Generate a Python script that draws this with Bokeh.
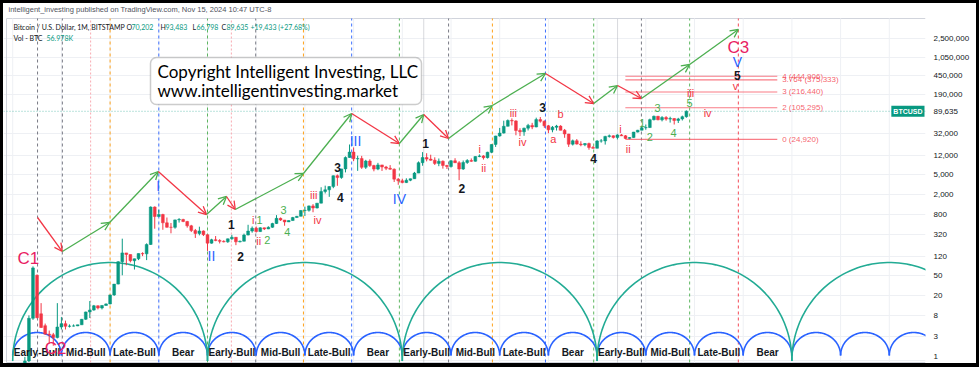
import numpy as np
from bokeh.plotting import figure
from bokeh.models import (Range1d, FixedTicker, NumeralTickFormatter, Arrow,
                          OpenHead, Label, BoxAnnotation, Span)
from bokeh.core.properties import value
from bokeh.embed import file_html
from bokeh.resources import INLINE

# ------------------------------------------------------------------ data
first_year, first_month = 2011, 4          # first monthly candle: Apr 2011
opens = [0.8, 1.0, 7.0, 50, 8.6, 5.0, 3.4, 3.3, 2.9,
         4.7, 5.48, 4.86, 4.9, 4.95, 5.2, 6.7, 9.35, 10.2, 12.4, 11.2, 12.6,
         13.5, 20.4, 33.4, 93, 139, 129, 97, 106, 135, 133, 204, 1130,
         732, 803, 549, 448, 446, 628, 640, 584, 478, 387, 338, 378,
         320, 217, 254, 244, 236, 230, 264, 284, 230, 237, 314, 377,
         430, 368, 437, 416, 448, 531, 673, 624, 573, 609, 699, 740,
         966, 970, 1190, 1080, 1350, 2300, 2480, 2870, 4730, 4340, 6450, 10860,
         13880, 10230, 10330, 6930, 9240, 7500, 6390, 7730, 7030, 6630, 6370, 4040,
         3740, 3450, 3850, 4110, 5320, 8570, 10820, 10090, 9600, 8300, 9150, 7550,
         7190, 9350, 8540, 6420, 8640, 9450, 9140, 11350, 11650, 10780, 13800, 19700,
         28990, 33110, 45200, 58800, 57700, 37300, 35040, 41460, 47100, 43800, 61300, 57000,
         46200, 38480, 43180, 45540, 37630, 31790, 19930, 23300, 20050, 19420, 20490, 17170,
         16540, 23130, 23140, 28470, 29230, 27200, 30480, 29230, 25940, 26970, 34640, 37720,
         42280, 42580, 61160, 71330, 60620, 67490, 62700, 64620, 58970, 63330, 70202]
highs = [1.2, 8.0, 75, 52, 14, 5.5, 4.0, 3.6, 14,
         7.4, 6.3, 5.3, 5.3, 5.2, 6.8, 9.5, 15.4, 12.9, 12.6, 12.7, 13.8,
         20.4, 33.4, 95, 266, 139, 129, 107, 135, 143, 215, 1163, 1163,
         1000, 830, 700, 545, 635, 680, 660, 600, 500, 415, 460, 388,
         320, 265, 300, 260, 247, 267, 317, 285, 244, 335, 502, 465,
         463, 448, 440, 468, 550, 780, 700, 626, 612, 720, 752, 980,
         1150, 1210, 1290, 1350, 2790, 3000, 2920, 4770, 5000, 6470, 11400, 19670,
         17200, 11800, 11700, 9760, 9990, 7780, 8500, 7760, 7400, 7670, 6580, 4240,
         4110, 4200, 4140, 5620, 9070, 13880, 13200, 12330, 10950, 10370, 9500, 7750,
         9600, 10500, 9190, 9460, 10070, 10400, 11450, 12480, 12070, 14100, 19860, 29300,
         41950, 58350, 61800, 64900, 59600, 41300, 42450, 50500, 52900, 67000, 69000, 59100,
         47990, 45800, 48200, 47450, 40000, 31990, 24650, 25200, 22800, 21000, 21450, 18380,
         23950, 25250, 29200, 31000, 29800, 31400, 31800, 30200, 27500, 35000, 38400, 44700,
         48970, 64000, 73800, 72700, 71950, 71950, 70000, 65600, 66500, 73600, 93483]
lows = [0.6, 0.95, 6.5, 7.0, 4.5, 3.3, 2.2, 2.0, 2.8,
        4.2, 4.2, 4.6, 4.8, 4.9, 5.2, 6.5, 7.1, 9.9, 10.5, 10.5, 12.5,
        13.3, 19.5, 33, 50, 79, 90, 65, 100, 120, 100, 200, 420,
        740, 400, 440, 340, 420, 555, 565, 440, 360, 275, 310, 300,
        152, 212, 237, 214, 225, 220, 253, 198, 225, 235, 310, 350,
        353, 363, 395, 411, 437, 520, 600, 480, 570, 605, 692, 740,
        750, 915, 890, 1060, 1340, 2100, 1800, 2670, 2980, 4110, 5500, 10700,
        9200, 5900, 6450, 6430, 7070, 5780, 6080, 5880, 6100, 6210, 3550, 3120,
        3350, 3380, 3680, 4080, 5320, 7450, 9100, 9400, 7710, 7300, 6530, 6430,
        6850, 8450, 3850, 6150, 8120, 8900, 8980, 10990, 9880, 10370, 13220, 17600,
        28130, 32400, 44950, 47000, 30000, 28800, 29300, 37330, 39600, 43300, 53300, 42000,
        32900, 34300, 37200, 37700, 26700, 17600, 18780, 19600, 18150, 18200, 15500, 16260,
        16500, 21400, 19580, 26950, 25800, 24800, 28900, 25300, 24900, 26560, 34100, 37600,
        38550, 41880, 59000, 59600, 56550, 58400, 53500, 49000, 52500, 58900, 66798]
closes = [1.0, 7.0, 70, 7.2, 4.6, 3.4, 3.3, 2.9, 4.7,
          5.48, 4.86, 4.9, 4.95, 5.2, 6.7, 9.35, 10.2, 12.4, 11.2, 12.6, 13.5,
          20.4, 33.4, 93, 139, 129, 97, 106, 135, 133, 204, 1130, 732,
          803, 549, 448, 446, 628, 640, 584, 478, 387, 338, 378, 320,
          217, 254, 244, 236, 230, 264, 284, 230, 237, 314, 377, 430,
          368, 437, 416, 448, 531, 673, 624, 573, 609, 699, 740, 966,
          970, 1190, 1080, 1350, 2300, 2480, 2870, 4730, 4340, 6450, 10860, 13880,
          10230, 10330, 6930, 9240, 7500, 6390, 7730, 7030, 6630, 6370, 4040, 3740,
          3450, 3850, 4110, 5320, 8570, 10820, 10090, 9600, 8300, 9150, 7550, 7190,
          9350, 8540, 6420, 8640, 9450, 9140, 11350, 11650, 10780, 13800, 19700, 28990,
          33110, 45200, 58800, 57700, 37300, 35040, 41460, 47100, 43800, 61300, 57000, 46200,
          38480, 43180, 45540, 37630, 31790, 19930, 23300, 20050, 19420, 20490, 17170, 16540,
          23130, 23140, 28470, 29230, 27200, 30480, 29230, 25940, 26970, 34640, 37720, 42280,
          42580, 61160, 71330, 60620, 67490, 62700, 64620, 58970, 63330, 70202, 89635]

price_ticks = [1, 3, 8, 20, 50, 120, 320, 800, 2000, 5000, 12000, 32000,
               190000, 450000, 1050000, 2500000]
last_price = 89635
volume_text = "56.978K"

# cycle phases (one per calendar year) and arcs
phase_names = ["Early-Bull", "Mid-Bull", "Late-Bull", "Bear"]
phase_first_year, phase_last_year = 2011, 2026
arc_years = list(range(2011, 2031))           # blue (1-year) arc boundaries
cycle_starts = [2011, 2015, 2019, 2023, 2027]   # green (4-year) arcs
blue_arc_base, blue_arc_top = 1.28, 3.66
green_arc_base, green_arc_top = 1.0, 89.6

# vertical cycle markers (decimal years) and their colour kinds
vline_t = [2011.51, 2012.02, 2012.60, 2013.00, 2014.00, 2015.00, 2015.49, 2015.99,
           2016.97, 2017.96, 2018.94, 2019.44, 2019.95, 2020.85, 2021.94, 2022.93,
           2023.42, 2023.91, 2024.90, 2025.90]
vline_kind = ["gray", "gray", "pink", "orange", "blue", "green", "pink", "gray",
              "orange", "blue", "green", "light", "gray", "orange", "blue", "green",
              "light", "gray", "green", "red"]

# projection zig-zag (arrows)
zz_t = [2011.51, 2012.02, 2012.99, 2013.99, 2014.98, 2015.39, 2015.57, 2016.97,
        2017.96, 2018.94, 2019.44, 2019.95, 2020.85, 2021.94, 2022.93, 2023.42,
        2023.91, 2024.90, 2025.90]
zz_p = [700, 148, 557, 5730, 803, 1828, 1009, 5224, 81000, 20570, 77400, 25860,
        116700, 504000, 128000, 291000, 160800, 760000, 3760000]

# wave labels
cycle_text = ["C1", "C2", "C3"]
cycle_t = [2011.32, 2011.88, 2025.90]
cycle_p = [107.6, 1.76, 1650000]
blue_text = ["I", "II", "III", "IV", "V"]
blue_t = [2013.99, 2015.08, 2018.04, 2018.94, 2025.88]
blue_p = [3020, 118, 23600, 1668, 833000]
black_text = ["1", "2", "3", "4", "1", "2", "3", "4", "5"]
black_t = [2015.49, 2015.68, 2017.67, 2017.73, 2019.48, 2020.22, 2021.88, 2022.93, 2025.88]
black_p = [508, 118, 6875, 1746, 20570, 2636, 106600, 10370, 460000]
red_text = ["i", "ii", "iii", "iv", "i", "ii", "iii", "iv", "a", "b", "i", "ii", "iii", "iv", "v"]
red_t = [2015.94, 2016.05, 2017.18, 2017.26, 2020.59, 2020.67, 2021.28, 2021.47,
         2022.10, 2022.25, 2023.48, 2023.64, 2024.92, 2025.27, 2025.84]
red_p = [639, 234, 1914, 639, 16370, 6875, 84800, 21550, 25860, 81000, 40830,
         16370, 211500, 84800, 291000]
green_text = ["1", "2", "3", "4", "1", "2", "3", "4", "5"]
green_t = [2016.07, 2016.23, 2016.56, 2016.64, 2023.93, 2024.08, 2024.24, 2024.57, 2024.90]
green_p = [611, 245, 1009, 369, 53700, 27100, 106600, 34000, 128000]

# fibonacci extension
fib_levels = ["0", "2", "3", "3.764", "4"]
fib_prices = [24920, 105295, 216440, 375333, 444906]
fib_t0, fib_t1 = 2023.58, 2026.70

# ------------------------------------------------------------------ layout helpers
X0_PX, X_PER_YEAR = 207.0, 48.7      # screenshot px of Jan 2015, px per year
Y0_PX, Y_PER_DEC = 360.4, 50.4       # screenshot px of price 1, px per decade
WIN_W, WIN_H = 979, 367
BORDER, BORDER_BOTTOM = 3, 4         # black page frame (CSS border)
FRAME_RIGHT = 925                    # screenshot px of the pane's right edge
LOWEST_LABEL_PX = 356                # price labels are kept inside the pane
# the canvas ends up as large as the bordered box and starts inside the border
CANVAS_W, CANVAS_H = WIN_W, WIN_H


def t_at(px):
    return 2015 + (px - X0_PX) / X_PER_YEAR


def p_at(py):
    return 10 ** ((Y0_PX - py) / Y_PER_DEC)


FONT = "Liberation Sans"
UP, DOWN = "#089981", "#f23645"

p = figure(width=WIN_W - 2 * BORDER, height=WIN_H - BORDER - BORDER_BOTTOM,
           x_range=Range1d(t_at(BORDER), t_at(FRAME_RIGHT)),
           y_range=Range1d(p_at(BORDER + CANVAS_H), p_at(BORDER)),
           y_axis_type="log", y_axis_location="right",
           output_backend="svg", toolbar_location=None,
           min_border_left=0, min_border_right=CANVAS_W - (FRAME_RIGHT - BORDER),
           min_border_top=0, min_border_bottom=0,
           background_fill_color="white", border_fill_color="white",
           outline_line_color=None)
p.styles = {"border-style": "solid", "border-color": "black",
            "border-width": f"{BORDER}px {BORDER}px {BORDER_BOTTOM}px {BORDER}px",
            "box-sizing": "content-box"}
p.xaxis.visible = False
p.xgrid.visible = False

# axis labels: the lowest one is nudged up so that it stays visible (as in TradingView)
label_pos = [max(v, p_at(LOWEST_LABEL_PX)) for v in price_ticks] + [last_price]
label_txt = [f"{v:,}" for v in price_ticks] + [f"{last_price:,}"]
p.yaxis.ticker = FixedTicker(ticks=label_pos)
p.yaxis.major_label_overrides = {pos: txt for pos, txt in zip(label_pos, label_txt)}
p.yaxis.axis_line_color = None
p.yaxis.major_tick_line_color = None
p.yaxis.minor_tick_line_color = None
p.yaxis.major_tick_out = 0
p.yaxis.major_tick_in = 0
p.yaxis.major_label_text_font = FONT
p.yaxis.major_label_text_font_size = "8px"
p.yaxis.major_label_text_color = "#131722"
p.yaxis.major_label_standoff = 8
p.ygrid.ticker = FixedTicker(ticks=price_ticks)
p.ygrid.grid_line_color = "#eef0f4"

y_lo, y_hi = p_at(362), p_at(18)
x_l, x_r = t_at(6), t_at(FRAME_RIGHT)

# panel border (left / top / bottom edges inside the frame)
p.segment(x0=[x_l, x_l, x_l], x1=[x_l, x_r, x_r], y0=[y_lo, y_hi, y_lo],
          y1=[y_hi, y_hi, y_lo], line_color="#d1d4dc", line_width=1)

# vertical yearly grid
grid_years = list(range(2011, 2030))
p.segment(x0=grid_years, x1=grid_years, y0=[y_lo] * len(grid_years),
          y1=[y_hi] * len(grid_years), line_color="#eef0f4", line_width=1)

# vertical cycle markers
kind_color = {"gray": "#6a6d78", "pink": "#f7a1a9", "orange": "#ff9800", "blue": "#2962ff",
              "green": "#4caf50", "red": "#f23645", "light": "#a9acb5"}
kind_dash = {"gray": "3 3", "pink": "2 2", "orange": "3 3", "blue": "3 3",
             "green": "3 3", "red": "3 3", "light": "1 1"}
for t, k in zip(vline_t, vline_kind):
    p.segment(x0=[t], x1=[t], y0=[y_lo], y1=[y_hi], line_color=kind_color[k],
              line_dash=kind_dash[k], line_width=1, line_alpha=0.9)

# arcs
theta = np.linspace(0, np.pi, 80)
bxs, bys = [], []
lb0, lb1 = np.log10(blue_arc_base), np.log10(blue_arc_top)
for a, b in zip(arc_years[:-1], arc_years[1:]):
    bxs.append(list(a + (b - a) * (1 - np.cos(theta)) / 2))
    bys.append(list(10 ** (lb0 + (lb1 - lb0) * np.sin(theta))))
p.multi_line(bxs, bys, line_color="#2962ff", line_width=1.6)
gxs, gys = [], []
lg0, lg1 = np.log10(green_arc_base), np.log10(green_arc_top)
for a in cycle_starts:
    gxs.append(list(a + 4 * (1 - np.cos(theta)) / 2))
    gys.append(list(10 ** (lg0 + (lg1 - lg0) * np.sin(theta))))
p.multi_line(gxs, gys, line_color="#22ab94", line_width=1.6)

# candles
n = len(closes)
tx = np.array([first_year + (first_month - 1 + i) / 12 for i in range(n)])
o, h, l, c = map(np.array, (opens, highs, lows, closes))
col = np.where(c >= o, UP, DOWN)
p.segment(x0=tx, x1=tx, y0=l, y1=h, line_color=col, line_width=1)
p.vbar(x=tx, width=0.7 / 12, top=np.maximum(o, c), bottom=np.minimum(o, c),
       fill_color=col, line_color=col, line_width=0.5)

# last price line
p.add_layout(Span(location=last_price, dimension="width", line_color="#089981",
                  line_alpha=0.55, line_dash="1 2", line_width=1))

# fib extension
p.segment(x0=[fib_t0] * len(fib_prices), x1=[fib_t1] * len(fib_prices),
          y0=fib_prices, y1=fib_prices, line_color="#f7525f", line_alpha=0.75, line_width=1.2)
p.text(x=[fib_t1 + 0.1] * len(fib_prices), y=fib_prices,
       text=[f"{lv} ({v:,})" for lv, v in zip(fib_levels, fib_prices)],
       text_color="#f23645", text_alpha=0.8, text_font=value(FONT), text_font_size="8px",
       text_baseline="middle", text_align="left")

# phase labels
ph_t = [y + 0.5 for y in range(phase_first_year, phase_last_year + 1)]
ph_txt = [phase_names[i % 4] for i in range(len(ph_t))]
p.text(x=ph_t, y=[1.45] * len(ph_t), text=ph_txt, text_color="#131722",
       text_font=value(FONT), text_font_style="bold", text_font_size="10px",
       text_align="center", text_baseline="middle")

# zig-zag arrows
for i in range(len(zz_t) - 1):
    colr = "#4caf50" if zz_p[i + 1] > zz_p[i] else "#f23645"
    p.add_layout(Arrow(end=OpenHead(size=8, line_color=colr, line_width=1.3),
                       x_start=zz_t[i], y_start=zz_p[i], x_end=zz_t[i + 1], y_end=zz_p[i + 1],
                       line_color=colr, line_width=1.3))


# wave labels
def wave(txt, ts, ps, color, size, bold=False):
    p.text(x=ts, y=ps, text=txt, text_color=color, text_font=value(FONT),
           text_font_size=size, text_font_style="bold" if bold else "normal",
           text_align="center", text_baseline="middle")


wave(cycle_text, cycle_t, cycle_p, "#e91e63", "17px")
wave(blue_text, blue_t, blue_p, "#2962ff", "14px")
wave(black_text, black_t, black_p, "#131722", "12px", bold=True)
wave(red_text, red_t, red_p, "#f23645", "11px")
wave(green_text, green_t, green_p, "#4caf50", "11px")

# copyright box
p.add_layout(BoxAnnotation(left=t_at(150), right=t_at(421), bottom=p_at(104), top=p_at(57),
                           fill_color="white", fill_alpha=1.0, line_color="#555555",
                           line_width=1.5, border_radius=6))
p.add_layout(Label(x=t_at(157), y=p_at(71), text="Copyright Intelligent Investing, LLC",
                   text_font="Lato", text_font_size="17px", text_color="black",
                   text_baseline="middle"))
p.add_layout(Label(x=t_at(157), y=p_at(90), text="www.intelligentinvesting.market",
                   text_font="Lato", text_font_size="17px", text_color="black",
                   text_baseline="middle"))


# header texts
def hdr(xpx, ypx, txt, color="#131722", size="7px", font="Lato"):
    p.add_layout(Label(x=t_at(xpx), y=p_at(ypx), text=txt, text_font=font,
                       text_font_size=size, text_color=color, text_baseline="middle"))


hdr(8, 9, "intelligent_investing published on TradingView.com, Nov 15, 2024 10:47 UTC-8",
    "#50535e", "7.5px", FONT)
hdr(13, 26, "Bitcoin / U.S. Dollar, 1M, BITSTAMP")
GR = "#089981"
hdr(126, 26, "O"); hdr(131, 26, f"{opens[-1]:,}", GR)
hdr(160, 26, "H"); hdr(165, 26, f"{highs[-1]:,}", GR)
hdr(192, 26, "L"); hdr(196, 26, f"{lows[-1]:,}", GR)
hdr(221, 26, "C"); hdr(226, 26, f"{closes[-1]:,}", GR)
chg = closes[-1] - opens[-1]
hdr(250, 26, f"+{chg:,} (+{chg / opens[-1] * 100:.2f}%)", GR)
hdr(13, 37, "Vol - BTC"); hdr(46, 37, volume_text, GR)

# series tag at the right edge of the pane
p.add_layout(Label(x=t_at(FRAME_RIGHT - 1), y=last_price, text="BTCUSD", text_font=FONT,
                   text_font_size="7px", text_font_style="bold", text_color="white",
                   text_align="right", text_baseline="middle",
                   background_fill_color="#089981", padding=2))

open("out.html", "w").write(file_html(p, INLINE))
